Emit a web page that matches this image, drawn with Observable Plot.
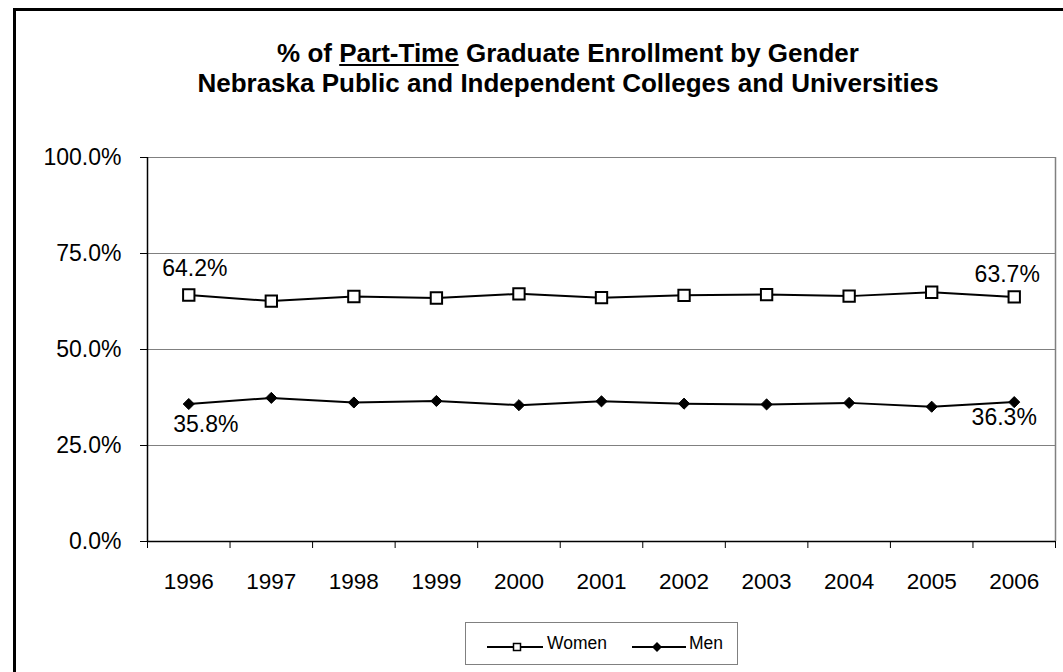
<!DOCTYPE html>
<html>
<head>
<meta charset="utf-8">
<script src="https://cdn.jsdelivr.net/npm/d3@7"></script>
<script src="https://cdn.jsdelivr.net/npm/@observablehq/plot@0.6"></script>
<style>
  html, body { margin: 0; padding: 0; background: #fff; overflow: hidden; }
  #page { position: relative; width: 1063px; height: 672px; overflow: hidden; font-family: "Liberation Sans", Arial, sans-serif; color: #000; }
  #frame { position: absolute; left: 13px; top: 8px; width: 1100px; height: 700px; border-left: 3px solid #000; border-top: 3px solid #000; }
  #title { position: absolute; left: 568px; top: 38px; transform: translateX(-50%); white-space: nowrap; text-align: center; font-weight: bold; font-size: 26px; line-height: 30px; }
  #chart { position: absolute; left: 0; top: 130px; }
  #legend { position: absolute; left: 465px; top: 622px; width: 273px; height: 43px; border: 1px solid #808080; box-sizing: border-box; font-size: 17.5px; }
  #legend .icon { position: absolute; top: 14px; }
  #legend .lab { position: absolute; top: 10px; line-height: 20px; }
</style>
</head>
<body>
<div id="page">
  <div id="frame"></div>
  <div id="title">% of <u>Part-Time</u> Graduate Enrollment by Gender<br>Nebraska Public and Independent Colleges and Universities</div>
  <div id="chart"></div>
  <div id="legend"></div>
</div>
<script>
const years = [1996, 1997, 1998, 1999, 2000, 2001, 2002, 2003, 2004, 2005, 2006];
const women = [64.2, 62.6, 63.8, 63.4, 64.5, 63.5, 64.1, 64.3, 63.9, 64.9, 63.7];
const men   = [35.8, 37.4, 36.2, 36.6, 35.5, 36.5, 35.9, 35.7, 36.1, 35.1, 36.3];
const yTicks = [0, 25, 50, 75, 100];
const seriesNames = ["Women", "Men"];

const womenData = years.map((y, i) => ({year: y, value: women[i]}));
const menData = years.map((y, i) => ({year: y, value: men[i]}));
const boundaries = [...years.map(y => y - 0.5), years[years.length - 1] + 0.5];
const xMin = years[0] - 0.5, xMax = years[years.length - 1] + 0.5;
const pct = d => d.toFixed(1) + "%";
const firstW = [womenData[0]], lastW = [womenData[womenData.length - 1]];
const firstM = [menData[0]], lastM = [menData[menData.length - 1]];
const lab = {x: "year", y: "value", text: d => pct(d.value), fontSize: 23, fill: "#000"};

const chart = Plot.plot({
  width: 1063,
  height: 480,
  marginTop: 27,
  marginBottom: 69,
  marginLeft: 147,
  marginRight: 8,
  style: {fontFamily: "Liberation Sans, Arial, sans-serif", color: "#000", background: "transparent"},
  x: {domain: [xMin, xMax]},
  y: {domain: [0, 100]},
  marks: [
    Plot.ruleY(yTicks.filter(t => t > 0), {stroke: "#808080", strokeWidth: 1}),
    Plot.ruleX([xMax], {stroke: "#808080", strokeWidth: 1.5}),
    Plot.ruleX([xMin], {stroke: "#000", strokeWidth: 1.5}),
    Plot.ruleY([0], {stroke: "#000", strokeWidth: 1.5}),
    Plot.axisY({ticks: yTicks, tickFormat: pct, tickSize: 7, tickPadding: 19, fontSize: 23, label: null, stroke: "#000"}),
    Plot.axisX({ticks: boundaries, tickFormat: () => "", tickSize: 7, label: null, stroke: "#000"}),
    Plot.axisX({ticks: years, tickFormat: d => String(d), tickSize: 0, tickPadding: 32, fontSize: 22.5, label: null}),
    Plot.line(womenData, {x: "year", y: "value", stroke: "#000", strokeWidth: 2}),
    Plot.line(menData, {x: "year", y: "value", stroke: "#000", strokeWidth: 2}),
    Plot.dot(womenData, {x: "year", y: "value", symbol: "square", r: 6.4, fill: "#fff", stroke: "#000", strokeWidth: 2}),
    Plot.dot(menData, {x: "year", y: "value", symbol: "diamond2", r: 5, fill: "#000", stroke: "#000", strokeWidth: 1}),
    Plot.text(firstW, {...lab, dx: 6, dy: -26}),
    Plot.text(lastW, {...lab, dx: -7, dy: -22}),
    Plot.text(firstM, {...lab, dx: 17, dy: 21}),
    Plot.text(lastM, {...lab, dx: -10, dy: 16})
  ]
});
document.getElementById("chart").appendChild(chart);

const legend = document.getElementById("legend");
const icons = [
  '<svg width="56" height="12"><line x1="0" y1="6" x2="56" y2="6" stroke="#000" stroke-width="2"/><rect x="26.5" y="2.5" width="7" height="7" fill="#fff" stroke="#000" stroke-width="1.5"/></svg>',
  '<svg width="54" height="12"><line x1="0" y1="6" x2="54" y2="6" stroke="#000" stroke-width="2"/><path d="M25 1 L30 6 L25 11 L20 6 Z" fill="#000"/></svg>'
];
const iconLeft = [21, 166];
const labLeft = [81, 223];
seriesNames.forEach((name, i) => {
  const ic = document.createElement("div");
  ic.className = "icon";
  ic.style.left = iconLeft[i] + "px";
  ic.innerHTML = icons[i];
  legend.appendChild(ic);
  const t = document.createElement("div");
  t.className = "lab";
  t.style.left = labLeft[i] + "px";
  t.textContent = name;
  legend.appendChild(t);
});
</script>
</body>
</html>
